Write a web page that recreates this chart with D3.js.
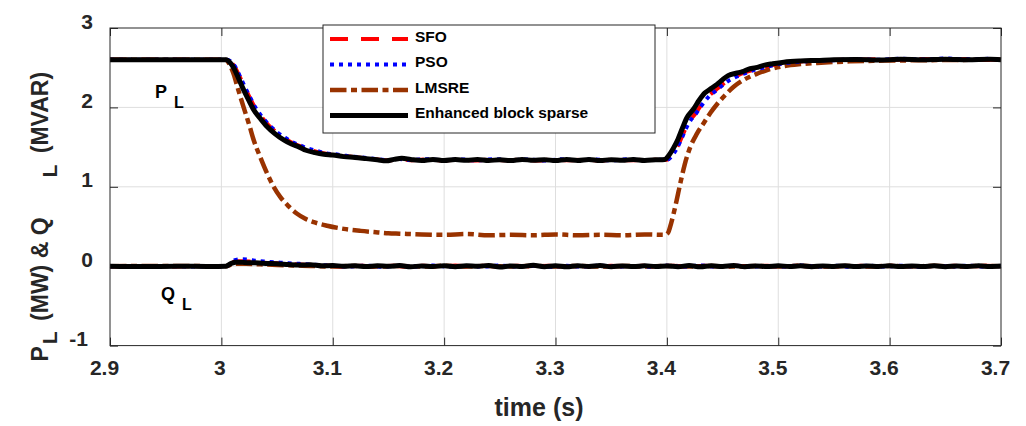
<!DOCTYPE html>
<html>
<head>
<meta charset="utf-8">
<script src="https://cdn.jsdelivr.net/npm/d3@7"></script>
<style>
  html, body { margin: 0; padding: 0; background: #fff; }
  svg { display: block; font-family: "Liberation Sans", Arial, sans-serif; }
</style>
</head>
<body>
<svg id="chart" width="1026" height="426"></svg>
<script>
// ---- data: load active power P_L and reactive power Q_L, [time (s), value] ----
const xTicks = [2.9, 3.0, 3.1, 3.2, 3.3, 3.4, 3.5, 3.6, 3.7];
const xTickLabels = ["2.9", "3", "3.1", "3.2", "3.3", "3.4", "3.5", "3.6", "3.7"];
const yTicks = [-1, 0, 1, 2, 3];
const yTickLabels = ["-1", "0", "1", "2", "3"];

const seriesNames = ["SFO", "PSO", "LMSRE", "Enhanced block sparse"];

const ebsP = [
  [2.90,2.60],[2.95,2.60],[3.004,2.60],[3.008,2.56],[3.011,2.50],[3.015,2.38],[3.020,2.22],
  [3.025,2.08],[3.029,1.97],[3.035,1.86],[3.041,1.76],[3.048,1.67],[3.056,1.59],[3.063,1.54],
  [3.070,1.50],[3.076,1.46],[3.084,1.43],[3.092,1.41],[3.100,1.40],[3.110,1.38],[3.120,1.37],
  [3.130,1.355],[3.140,1.34],[3.148,1.328],[3.155,1.345],[3.162,1.36],[3.170,1.345],[3.180,1.332],
  [3.190,1.345],[3.200,1.330],[3.210,1.343],[3.220,1.333],[3.230,1.345],[3.240,1.332],[3.250,1.340],
  [3.260,1.330],[3.270,1.345],[3.280,1.333],[3.290,1.342],[3.300,1.330],[3.310,1.344],[3.320,1.332],
  [3.330,1.345],[3.340,1.330],[3.350,1.342],[3.360,1.333],[3.370,1.345],[3.380,1.332],[3.390,1.340],
  [3.398,1.345],[3.402,1.40],[3.406,1.49],[3.410,1.60],[3.414,1.74],[3.418,1.87],[3.424,1.98],
  [3.429,2.09],[3.434,2.18],[3.440,2.24],[3.445,2.29],[3.450,2.35],[3.455,2.40],[3.462,2.43],
  [3.468,2.45],[3.473,2.48],[3.480,2.50],[3.487,2.53],[3.495,2.55],[3.505,2.57],[3.520,2.585],
  [3.535,2.592],[3.550,2.600],[3.570,2.603],[3.590,2.598],[3.610,2.605],[3.630,2.600],[3.650,2.607],
  [3.670,2.600],[3.690,2.605],[3.700,2.600]
];

const psoP = [
  [2.90,2.60],[2.95,2.60],[3.005,2.60],[3.009,2.57],[3.012,2.52],[3.016,2.41],[3.021,2.26],
  [3.026,2.12],[3.030,2.01],[3.036,1.89],[3.042,1.79],[3.049,1.70],[3.057,1.62],[3.064,1.56],
  [3.071,1.52],[3.078,1.48],[3.086,1.45],[3.094,1.42],[3.102,1.41],[3.112,1.39],[3.122,1.375],
  [3.132,1.36],[3.142,1.345],[3.150,1.335],[3.160,1.350],[3.170,1.338],[3.185,1.348],[3.200,1.335],
  [3.215,1.345],[3.230,1.333],[3.245,1.347],[3.260,1.335],[3.275,1.345],[3.290,1.332],[3.305,1.346],
  [3.320,1.335],[3.335,1.345],[3.350,1.333],[3.365,1.347],[3.380,1.335],[3.395,1.340],
  [3.400,1.340],[3.404,1.38],[3.408,1.46],[3.412,1.57],[3.416,1.70],[3.420,1.81],[3.426,1.92],
  [3.432,2.04],[3.438,2.14],[3.444,2.21],[3.450,2.28],[3.456,2.34],[3.463,2.39],[3.470,2.43],
  [3.478,2.47],[3.486,2.50],[3.495,2.53],[3.505,2.555],[3.520,2.575],[3.535,2.590],[3.550,2.595],
  [3.570,2.605],[3.590,2.600],[3.610,2.612],[3.630,2.603],[3.650,2.615],[3.670,2.605],[3.690,2.612],
  [3.700,2.605]
];

const sfoP = [
  [2.90,2.60],[2.95,2.60],[3.005,2.60],[3.009,2.565],[3.012,2.51],[3.016,2.40],[3.021,2.25],
  [3.026,2.11],[3.030,2.00],[3.036,1.88],[3.042,1.78],[3.049,1.69],[3.057,1.61],[3.064,1.55],
  [3.071,1.51],[3.078,1.47],[3.086,1.44],[3.094,1.415],[3.102,1.405],[3.112,1.385],[3.122,1.37],
  [3.132,1.355],[3.142,1.342],[3.150,1.332],[3.160,1.348],[3.172,1.335],[3.186,1.346],[3.200,1.332],
  [3.214,1.344],[3.228,1.331],[3.242,1.345],[3.256,1.333],[3.270,1.344],[3.284,1.331],[3.298,1.345],
  [3.312,1.333],[3.326,1.344],[3.340,1.331],[3.354,1.345],[3.368,1.333],[3.382,1.344],[3.396,1.338],
  [3.400,1.340],[3.404,1.39],[3.408,1.47],[3.412,1.58],[3.416,1.71],[3.420,1.82],[3.426,1.93],
  [3.432,2.05],[3.438,2.15],[3.444,2.22],[3.450,2.29],[3.456,2.35],[3.463,2.40],[3.470,2.44],
  [3.478,2.475],[3.486,2.505],[3.495,2.535],[3.505,2.56],[3.520,2.578],[3.535,2.590],[3.550,2.597],
  [3.570,2.602],[3.590,2.607],[3.610,2.600],[3.630,2.610],[3.650,2.602],[3.670,2.610],[3.690,2.600],
  [3.700,2.605]
];

const lmsreP = [
  [2.90,2.60],[2.95,2.60],[3.004,2.60],[3.007,2.55],[3.011,2.42],[3.015,2.23],[3.020,2.00],
  [3.025,1.78],[3.029,1.59],[3.035,1.37],[3.041,1.17],[3.047,1.00],[3.053,0.87],[3.060,0.76],
  [3.068,0.66],[3.075,0.60],[3.083,0.555],[3.095,0.51],[3.110,0.47],[3.125,0.445],[3.137,0.43],
  [3.150,0.415],[3.160,0.41],[3.180,0.40],[3.200,0.395],[3.220,0.405],[3.240,0.39],[3.260,0.395],
  [3.280,0.39],[3.300,0.40],[3.320,0.39],[3.340,0.395],[3.360,0.39],[3.380,0.40],[3.398,0.395],
  [3.401,0.42],[3.404,0.55],[3.408,0.78],[3.412,1.04],[3.416,1.28],[3.421,1.50],[3.427,1.67],
  [3.433,1.80],[3.439,1.93],[3.445,2.04],[3.452,2.15],[3.460,2.26],[3.467,2.33],[3.475,2.39],
  [3.482,2.43],[3.490,2.47],[3.505,2.52],[3.520,2.545],[3.535,2.56],[3.565,2.58],[3.600,2.59],
  [3.625,2.593],[3.650,2.597],[3.700,2.60]
];

const ebsQ = [
  [2.90,0.000],[2.93,-0.005],[2.96,0.000],[2.99,-0.003],[3.004,0.000],[3.009,0.035],[3.013,0.050],
  [3.020,0.048],[3.030,0.042],[3.040,0.035],[3.050,0.030],[3.060,0.022],[3.070,0.015],[3.080,0.018],
  [3.090,0.005],[3.100,0.008],[3.110,0.000],[3.120,0.006],[3.130,-0.005],[3.140,0.005],[3.150,-0.002],
  [3.160,0.008],[3.170,-0.008],[3.180,0.004],[3.190,-0.004],[3.200,0.006],[3.210,-0.006],[3.220,0.005],
  [3.230,0.000],[3.240,0.008],[3.250,-0.010],[3.260,0.004],[3.270,-0.004],[3.280,0.012],[3.290,-0.006],
  [3.300,0.005],[3.310,-0.008],[3.320,0.006],[3.330,-0.004],[3.340,0.008],[3.350,-0.006],[3.360,0.004],
  [3.370,-0.005],[3.380,0.006],[3.390,-0.004],[3.400,0.004],[3.410,-0.006],[3.420,0.008],[3.430,-0.008],
  [3.440,0.005],[3.450,-0.004],[3.460,0.008],[3.470,-0.006],[3.480,0.004],[3.490,-0.005],[3.500,0.006],
  [3.510,-0.004],[3.520,0.005],[3.530,-0.006],[3.540,0.004],[3.550,-0.003],[3.560,0.006],[3.570,-0.005],
  [3.580,0.004],[3.590,-0.004],[3.600,0.006],[3.610,-0.005],[3.620,0.004],[3.630,-0.004],[3.640,0.005],
  [3.650,-0.006],[3.660,0.004],[3.670,-0.003],[3.680,0.005],[3.690,-0.004],[3.700,0.002]
];

const psoQ = [
  [2.90,0.000],[2.94,0.004],[2.98,-0.004],[3.005,0.000],[3.009,0.050],[3.013,0.080],[3.018,0.088],
  [3.024,0.082],[3.030,0.070],[3.040,0.058],[3.050,0.048],[3.060,0.038],[3.070,0.030],[3.080,0.020],
  [3.090,0.012],[3.100,0.006],[3.115,-0.004],[3.130,0.006],[3.145,-0.006],[3.160,0.005],[3.175,-0.004],
  [3.190,0.008],[3.205,-0.006],[3.220,0.004],[3.235,-0.005],[3.250,0.008],[3.265,-0.004],[3.280,0.006],
  [3.295,-0.008],[3.310,0.005],[3.325,-0.004],[3.340,0.007],[3.355,-0.005],[3.370,0.004],[3.385,-0.006],
  [3.400,0.005],[3.415,-0.004],[3.430,0.008],[3.445,-0.005],[3.460,0.006],[3.475,-0.006],[3.490,0.004],
  [3.505,-0.004],[3.520,0.008],[3.535,-0.005],[3.550,0.005],[3.565,-0.006],[3.580,0.006],[3.595,-0.004],
  [3.610,0.005],[3.625,-0.006],[3.640,0.004],[3.655,-0.004],[3.670,0.006],[3.685,-0.005],[3.700,0.003]
];

const sfoQ = [
  [2.90,0.000],[2.945,-0.004],[2.985,0.004],[3.005,0.000],[3.009,0.040],[3.014,0.062],[3.020,0.062],
  [3.028,0.055],[3.038,0.045],[3.050,0.036],[3.062,0.027],[3.075,0.018],[3.088,0.010],[3.100,0.004],
  [3.112,-0.005],[3.126,0.006],[3.140,-0.004],[3.154,0.007],[3.168,-0.006],[3.182,0.005],[3.196,-0.004],
  [3.210,0.008],[3.224,-0.005],[3.238,0.005],[3.252,-0.006],[3.266,0.006],[3.280,-0.004],[3.294,0.007],
  [3.308,-0.005],[3.322,0.004],[3.336,-0.006],[3.350,0.006],[3.364,-0.004],[3.378,0.005],[3.392,-0.005],
  [3.406,0.006],[3.420,-0.005],[3.434,0.006],[3.448,-0.004],[3.462,0.005],[3.476,-0.006],[3.490,0.005],
  [3.504,-0.004],[3.518,0.006],[3.532,-0.005],[3.546,0.004],[3.560,-0.006],[3.574,0.005],[3.588,-0.004],
  [3.602,0.006],[3.616,-0.005],[3.630,0.004],[3.644,-0.006],[3.658,0.005],[3.672,-0.004],[3.686,0.005],
  [3.700,-0.002]
];

const lmsreQ = [
  [2.90,0.000],[2.95,0.003],[3.004,0.000],[3.009,0.020],[3.014,0.030],[3.022,0.030],[3.035,0.024],
  [3.050,0.016],[3.065,0.010],[3.080,0.004],[3.100,-0.004],[3.120,0.004],[3.140,-0.005],[3.160,0.004],
  [3.180,-0.004],[3.200,0.005],[3.220,-0.005],[3.240,0.004],[3.260,-0.004],[3.280,0.005],[3.300,-0.004],
  [3.320,0.004],[3.340,-0.005],[3.360,0.004],[3.380,-0.004],[3.400,0.005],[3.420,-0.004],[3.440,0.004],
  [3.460,-0.005],[3.480,0.004],[3.500,-0.004],[3.520,0.005],[3.540,-0.004],[3.560,0.004],[3.580,-0.005],
  [3.600,0.004],[3.620,-0.004],[3.640,0.005],[3.660,-0.004],[3.680,0.004],[3.700,0.000]
];

// ---- layout ----
const svg = d3.select("#chart");
const margin = { left: 110, top: 28, right: 25, bottom: 80.4 };
const W = 1026, H = 426;
const plotW = W - margin.left - margin.right;   // 891
const plotH = H - margin.top - margin.bottom;   // ~317.6

const x = d3.scaleLinear().domain([2.9, 3.7]).range([0, plotW]);
const y = d3.scaleLinear().domain([-1, 3]).range([plotH, 0]);

const axisColor = "#262626";
const fontFam = "Liberation Sans, Arial, sans-serif";
const g = svg.append("g").attr("transform", `translate(${margin.left},${margin.top})`);

// grid
g.append("g").selectAll("line").data(xTicks.slice(1, -1)).join("line")
  .attr("x1", d => x(d)).attr("x2", d => x(d)).attr("y1", 0).attr("y2", plotH)
  .attr("stroke", "#dedede").attr("stroke-width", 1);
g.append("g").selectAll("line").data(yTicks.slice(1, -1)).join("line")
  .attr("x1", 0).attr("x2", plotW).attr("y1", d => y(d)).attr("y2", d => y(d))
  .attr("stroke", "#dedede").attr("stroke-width", 1);

// axes with inward ticks on all four sides
const tickLen = 8;
const xAxisB = g.append("g").attr("transform", `translate(0,${plotH})`)
  .call(d3.axisBottom(x).tickValues(xTicks).tickSizeInner(-tickLen).tickSizeOuter(0)
        .tickFormat((d, i) => xTickLabels[i]));
const xAxisT = g.append("g")
  .call(d3.axisTop(x).tickValues(xTicks).tickSizeInner(-tickLen).tickSizeOuter(0).tickFormat(""));
const yAxisL = g.append("g")
  .call(d3.axisLeft(y).tickValues(yTicks).tickSizeInner(-tickLen).tickSizeOuter(0)
        .tickFormat((d, i) => yTickLabels[i]));
const yAxisR = g.append("g").attr("transform", `translate(${plotW},0)`)
  .call(d3.axisRight(y).tickValues(yTicks).tickSizeInner(-tickLen).tickSizeOuter(0).tickFormat(""));

[xAxisB, xAxisT, yAxisL, yAxisR].forEach(a => {
  a.select(".domain").remove();
  a.selectAll(".tick line").attr("stroke", axisColor).attr("stroke-width", 1);
});

xAxisB.selectAll(".tick text")
  .attr("y", 29.4).attr("dy", null)
  .attr("dx", (d, i) => -2 * xTickLabels[i].length)
  .attr("fill", axisColor).attr("font-size", 21).attr("font-weight", "bold")
  .attr("font-family", fontFam);

yAxisL.selectAll(".tick text")
  .attr("x", -17).attr("dy", null)
  .attr("dx", d => (d < 0 ? -5 : 0))
  .attr("fill", axisColor).attr("font-size", 21).attr("font-weight", "bold")
  .attr("font-family", fontFam);

// series lines
const line = d3.line().x(d => x(d[0])).y(d => y(d[1])).curve(d3.curveMonotoneX);

const styles = {
  "SFO":   { color: "#ff0000", width: 4,   dash: "18,13" },
  "PSO":   { color: "#0000ff", width: 4,   dash: "4,5" },
  "LMSRE": { color: "#993300", width: 4.5, dash: "16.5,4.5,6,4.5" },
  "Enhanced block sparse": { color: "#000000", width: 5, dash: null }
};

const drawOrder = [
  ["LMSRE", lmsreP], ["LMSRE", lmsreQ],
  ["SFO", sfoP], ["SFO", sfoQ],
  ["PSO", psoP], ["PSO", psoQ],
  ["Enhanced block sparse", ebsP], ["Enhanced block sparse", ebsQ]
];

const linesG = g.append("g");
drawOrder.forEach(([name, data]) => {
  const s = styles[name];
  linesG.append("path").datum(data)
    .attr("d", line)
    .attr("fill", "none")
    .attr("stroke", s.color)
    .attr("stroke-width", s.width)
    .attr("stroke-dasharray", s.dash)
    .attr("stroke-linejoin", "round");
});

// plot frame
g.append("rect").attr("x", 0).attr("y", 0).attr("width", plotW).attr("height", plotH)
  .attr("fill", "none").attr("stroke", axisColor).attr("stroke-width", 1);

// in-plot annotations
function subLabel(sel, px, py, main, sub, mainSize, subSize, shift) {
  const t = sel.append("text").attr("x", px).attr("y", py)
    .attr("font-size", mainSize).attr("font-weight", "bold").attr("fill", "#000");
  t.append("tspan").text(main);
  t.append("tspan").attr("dx", 7).attr("dy", shift).attr("font-size", subSize).text(sub);
}
subLabel(svg, 155, 98, "P", "L", 18, 16, 10);
subLabel(svg, 161, 300, "Q", "L", 18, 16, 10);

// legend
const lg = svg.append("g");
lg.append("rect").attr("x", 323).attr("y", 25).attr("width", 332).attr("height", 108)
  .attr("fill", "#fff").attr("stroke", axisColor).attr("stroke-width", 1);
const legendRows = [41.5, 67, 92.5, 118];
seriesNames.forEach((name, i) => {
  const s = styles[name];
  const yy = legendRows[i];
  lg.append("line").attr("x1", 330).attr("x2", 408).attr("y1", yy - 2.5).attr("y2", yy - 2.5)
    .attr("stroke", s.color).attr("stroke-width", s.width).attr("stroke-dasharray", s.dash);
  lg.append("text").attr("x", 415).attr("y", yy)
    .attr("font-size", 15.5).attr("font-weight", "bold").attr("fill", "#000").text(name);
});

// axis titles
svg.append("text").attr("x", 539).attr("y", 416).attr("text-anchor", "middle")
  .attr("font-size", 25).attr("font-weight", "bold").attr("fill", axisColor).text("time (s)");

const yl = svg.append("text")
  .attr("transform", "translate(48,361.5) rotate(-90)")
  .attr("text-anchor", "start")
  .attr("font-size", 23).attr("font-weight", "bold").attr("fill", axisColor);
yl.append("tspan").text("P");
yl.append("tspan").attr("dx", 2).attr("dy", 8.7).attr("font-size", 21).text("L");
yl.append("tspan").attr("dx", 4).attr("dy", -8.7).text(" (MW) & Q");
yl.append("tspan").attr("dx", 40).attr("dy", 8.7).attr("font-size", 21).text("L");
yl.append("tspan").attr("dx", 5).attr("dy", -8.7).text(" (MVAR)");
</script>
</body>
</html>
